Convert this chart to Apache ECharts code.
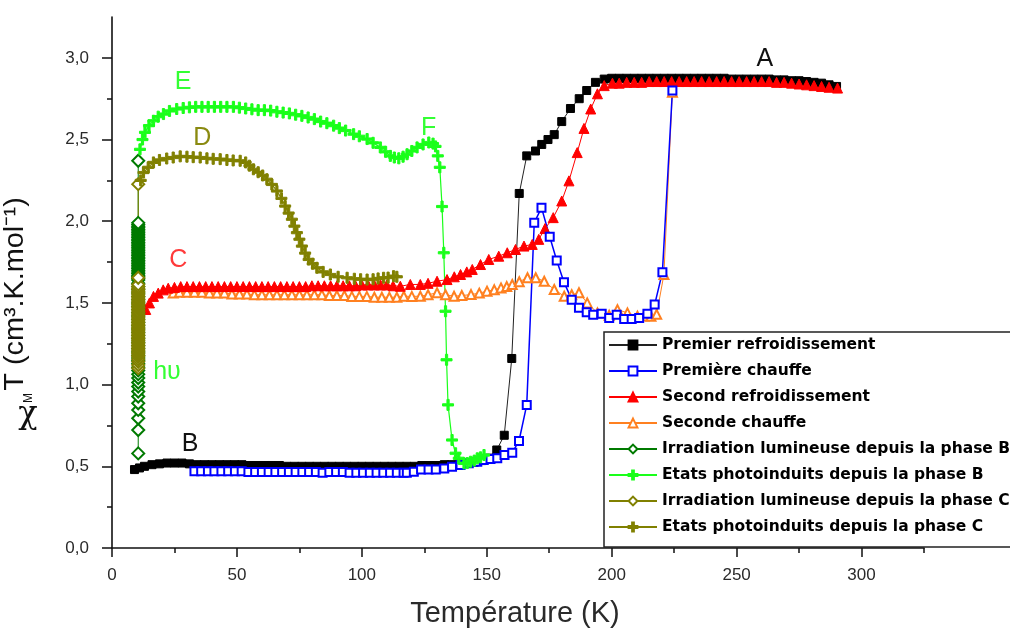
<!DOCTYPE html>
<html><head><meta charset="utf-8">
<script src="https://cdn.jsdelivr.net/npm/echarts@6/dist/echarts.min.js"></script>
<style>html,body{margin:0;padding:0;background:#fff}#c{width:1010px;height:631px}</style>
</head><body><div id="c"></div>
<script>
// ---------- DATA ----------
const seriesNames = [
  'Premier refroidissement', 'Première chauffe', 'Second refroidissement', 'Seconde chauffe',
  'Irradiation lumineuse depuis la phase B', 'Etats photoinduits depuis la phase B',
  'Irradiation lumineuse depuis la phase C', 'Etats photoinduits depuis la phase C'
];
const xMajorTicks = [0, 50, 100, 150, 200, 250, 300];
const xMinorTicks = [25, 75, 125, 175, 225, 275, 325];
const yMajorTicks = [0, 0.5, 1.0, 1.5, 2.0, 2.5, 3.0];
const yMinorTicks = [0.25, 0.75, 1.25, 1.75, 2.25, 2.75];

const premierRefroidissement = [
  [9,0.48],[11,0.49],[13,0.50],[16,0.51],[19,0.515],[22,0.52],[25,0.52],[28,0.52],[31,0.515],[34,0.51],
  [37,0.51],[40,0.51],[43,0.51],[46,0.51],[49,0.51],[52,0.51],[55,0.505],[58,0.505],[61,0.505],[64,0.505],
  [67,0.505],[70,0.50],[73,0.50],[76,0.50],[79,0.50],[82,0.50],[85,0.50],[88,0.50],[91,0.50],[94,0.50],
  [97,0.50],[100,0.50],[103,0.50],[106,0.50],[109,0.50],[112,0.50],[115,0.50],[118,0.50],[121,0.50],[124,0.505],
  [127,0.505],[130,0.505],[133,0.51],[136,0.51],[139,0.515],[142,0.52],[145,0.525],[148,0.535],[151,0.55],[154,0.60],
  [157,0.69],[160,1.16],[163,2.17],[166,2.40],[169.5,2.43],[172,2.47],[174.5,2.50],[177,2.53],[180,2.61],[183.5,2.69],
  [187,2.75],[190,2.80],[193.5,2.85],[197,2.87],[200,2.875],[203,2.875],[206,2.875],[209,2.875],[212,2.875],[215,2.875],
  [218,2.875],[221,2.875],[224,2.875],[227,2.875],[230,2.875],[233,2.875],[236,2.875],[239,2.875],[242,2.875],[245,2.875],
  [248,2.87],[251,2.87],[254,2.87],[257,2.87],[260,2.87],[263,2.87],[266,2.865],[269,2.865],[272,2.86],[275,2.86],
  [278,2.855],[281,2.85],[284,2.845],[287,2.835],[290,2.825]
];
const premiereChauffe = [
  [33,0.47],[35.7,0.47],[38.4,0.47],[41,0.47],[43.8,0.47],[46.5,0.47],[49.2,0.47],[51.9,0.47],[54.6,0.465],[57.3,0.465],
  [60,0.465],[62.7,0.465],[65.4,0.465],[68.1,0.465],[70.8,0.465],[73.5,0.465],[76.2,0.465],[78.9,0.465],[81.6,0.465],[84.3,0.46],
  [87,0.465],[89.7,0.465],[92.4,0.465],[95.1,0.46],[97.8,0.46],[100.5,0.46],[103.2,0.46],[105.9,0.46],[108.6,0.46],[111.3,0.46],
  [114,0.46],[116.7,0.46],[118,0.46],[120.8,0.467],[123.7,0.48],[126.7,0.48],[129.6,0.48],[133,0.487],[136.1,0.497],[139.5,0.508],
  [142.8,0.518],[146.2,0.528],[148.8,0.538],[151.5,0.545],[154.2,0.549],[157.1,0.569],[160.2,0.583],[162.9,0.655],[166,0.876],[169,1.99],
  [171.9,2.083],[175.2,1.905],[178,1.76],[180.9,1.627],[184,1.52],[186.9,1.47],[190,1.443],[192.6,1.428],[196,1.434],[199,1.408],
  [202,1.428],[205,1.402],[208,1.402],[211,1.408],[214.3,1.434],[217.2,1.49],[220.3,1.688],[224.3,2.80]
];
const secondRefroidissement = [
  [13.5,1.46],[15,1.50],[16.6,1.54],[18.5,1.56],[20.5,1.58],[22.5,1.59],[25,1.595],[27.5,1.60],[30,1.60],[32.5,1.60],
  [35,1.60],[37.5,1.60],[40,1.60],[42.5,1.60],[45,1.60],[47.5,1.60],[50,1.60],[52.5,1.60],[55,1.60],[57.5,1.60],
  [60,1.60],[62.5,1.60],[65,1.60],[67.5,1.60],[70,1.60],[72.5,1.60],[75,1.60],[77.5,1.60],[80,1.605],[82.5,1.605],
  [85,1.605],[87.5,1.605],[90,1.605],[92.5,1.605],[95,1.605],[97.5,1.605],[100,1.61],[102.5,1.61],[105,1.61],[107.5,1.61],
  [110,1.61],[112.5,1.605],[115.4,1.602],[119.4,1.613],[123.4,1.613],[126.5,1.62],[130.1,1.633],[134.1,1.643],[137,1.66],[139.5,1.674],
  [142,1.69],[144.2,1.705],[147.5,1.735],[150.8,1.766],[154.8,1.786],[158.2,1.807],[161.5,1.827],[164.9,1.848],[168.2,1.858],[170.8,1.889],
  [173.3,1.955],[176.6,2.022],[180,2.124],[182.9,2.247],[186.2,2.42],[188.9,2.568],[191.6,2.687],[194.3,2.78],[197,2.83],[200.3,2.845],
  [203,2.845],[206,2.85],[209,2.85],[212,2.85],[215,2.855],[218,2.855],[221,2.855],[224,2.855],[227,2.855],[230,2.855],
  [233,2.855],[236,2.855],[239,2.855],[242,2.855],[245,2.855],[248,2.855],[251,2.855],[254,2.855],[257,2.855],[260,2.855],
  [263,2.855],[266,2.85],[269,2.85],[272,2.845],[275,2.84],[278,2.835],[281,2.83],[284,2.825],[287,2.82],[290.4,2.815]
];
const secondeChauffe = [
  [24.5,1.56],[27,1.565],[30,1.565],[33,1.565],[36,1.565],[39,1.56],[42,1.56],[45,1.56],[48,1.555],[51,1.555],
  [54,1.555],[57,1.55],[60,1.55],[63,1.55],[66,1.55],[69,1.55],[72,1.55],[75,1.55],[78,1.55],[81,1.55],
  [84,1.55],[87,1.545],[90,1.545],[93,1.545],[96,1.54],[99,1.54],[102,1.54],[105,1.535],[108,1.535],[111,1.535],
  [114,1.535],[116.8,1.541],[120,1.54],[123.4,1.541],[126.5,1.55],[130.1,1.562],[133.5,1.55],[136.9,1.541],[140,1.545],[143.7,1.551],
  [147,1.56],[150.1,1.572],[153,1.58],[155.7,1.592],[158,1.60],[160.2,1.613],[163,1.63],[166.3,1.654],[169.6,1.654],[173,1.633],
  [177,1.582],[181,1.541],[184,1.55],[186.9,1.562],[190.2,1.50],[194.3,1.439],[199,1.424],[202.3,1.459],[206.3,1.439],[210.3,1.418],
  [213,1.42],[215.7,1.418],[218,1.43],[220.9,1.674],[224.3,2.79]
];
// irradiation at constant temperature (K) -> measured values, in time order
const irradiationTemperature = 10.5;
const irradiationBValues = [
  0.579,0.722,0.794,0.845,0.886,0.927,0.958,0.988,1.013,1.040,1.064,1.087,1.107,1.128,1.146,1.163,1.179,
  1.20,1.22,1.24,1.26,1.28,1.30,1.32,1.34,1.36,1.38,1.40,1.42,1.44,1.46,1.48,1.50,1.52,1.54,1.56,1.58,1.60,1.62,1.64,
  1.65,1.66,1.67,1.68,1.69,1.70,1.71,1.72,1.73,1.74,1.75,1.76,1.77,1.78,1.79,1.80,1.81,1.82,1.83,1.84,1.85,1.86,1.87,
  1.88,1.89,1.90,1.91,1.92,1.93,1.94,1.95,1.96,1.97,1.98,1.99,2.37
];
const irradiationCValues = [
  1.10,1.12,1.14,1.155,1.17,1.18,1.19,
  1.20,1.21,1.22,1.23,1.24,1.25,1.26,1.27,1.28,1.29,1.30,1.31,1.32,1.33,1.34,1.35,1.36,1.37,1.38,1.39,1.40,
  1.41,1.42,1.43,1.44,1.45,1.46,1.47,1.48,1.49,1.50,1.51,1.52,1.53,1.54,1.55,1.56,1.57,1.58,1.59,1.60,
  1.613,1.654,2.227
];
const photoinduitsB = [
  [11.2,2.44],[12.2,2.50],[13.2,2.544],[14.8,2.585],[16.6,2.615],[18.5,2.64],[20.6,2.656],[23,2.675],[25.9,2.687],[28.5,2.693],
  [31,2.697],[33.5,2.70],[36,2.70],[38.5,2.70],[41,2.70],[43.5,2.70],[46,2.70],[48.6,2.70],[51,2.695],[53.5,2.69],
  [56,2.685],[58.5,2.68],[61,2.68],[63.5,2.677],[66,2.67],[68.5,2.665],[71,2.66],[73.5,2.652],[76,2.645],[78.5,2.635],
  [81,2.625],[83.5,2.61],[86,2.60],[88.7,2.585],[91,2.57],[93.5,2.555],[96.7,2.533],[99,2.52],[102.1,2.503],[104.5,2.48],
  [107.4,2.452],[109.5,2.425],[111.4,2.40],[113,2.39],[114.8,2.385],[116.5,2.395],[118.1,2.41],[120,2.43],[122.1,2.452],[124.5,2.47],
  [126.8,2.482],[128.5,2.475],[129.5,2.458],[130.4,2.40],[131.2,2.33],[132.1,2.09],[132.8,1.807],[133.5,1.449],[133.9,1.152],[134.5,0.876],
  [136.1,0.661],[137.5,0.58],[138.8,0.549],[140.9,0.518],[142.2,0.52],[143.5,0.528],[145,0.535],[146.2,0.549],[147.5,0.555],[148.9,0.569]
];
const photoinduitsC = [
  [11.5,2.25],[12.6,2.298],[14.5,2.33],[16.6,2.36],[19,2.375],[21.9,2.384],[24.5,2.39],[27.3,2.397],[30,2.395],[32.5,2.392],
  [35.3,2.39],[38,2.385],[40.5,2.382],[43.3,2.38],[46,2.375],[48.5,2.372],[51.3,2.37],[53.5,2.36],[55,2.34],[56.6,2.318],
  [58.5,2.30],[60.3,2.28],[62,2.257],[64,2.225],[66,2.185],[67.8,2.14],[69.3,2.093],[70.7,2.05],[72,2.012],[73,1.97],
  [74,1.93],[75,1.89],[76,1.848],[77.3,1.805],[78.7,1.766],[80.3,1.74],[82,1.715],[84.5,1.69],[87.4,1.674],[90.5,1.66],
  [94.1,1.654],[97,1.648],[99.5,1.645],[102.1,1.643],[104.5,1.645],[106.5,1.65],[108.7,1.654],[110.5,1.655],[112.7,1.664],[114,1.66]
];
// curve annotations (text, T, value, colour)
const annotations = [
  ['A', 261.3, 2.994, '#111111'], ['B', 31.3, 0.637, '#111111'], ['C', 26.5, 1.76, '#ff3a3a'],
  ['D', 36.1, 2.507, '#8a8a10'], ['E', 28.5, 2.85, '#33ff33'], ['F', 126.7, 2.57, '#33ff33'],
  ['h\u03c5', 22.0, 1.079, '#33ff33']
];

// ---------- CHART ----------
const irradiationB = irradiationBValues.map(v => [irradiationTemperature, v]);
const irradiationC = irradiationCValues.map(v => [irradiationTemperature, v]);
const PLUS = 'path://M4,0H6V4H10V6H6V10H4V6H0V4H4Z';
const chart = echarts.init(document.getElementById('c'), null, {renderer: 'canvas'});
const FONT = 'Liberation Sans';
function mk(name, data, color, symbol, size, opts) {
  opts = opts || {};
  return {
    name, type: 'line', data, symbol, symbolSize: size, showSymbol: true,
    xAxisIndex: 0, yAxisIndex: 0,
    lineStyle: {color: opts.lineColor || color, width: opts.lineWidth || 1},
    itemStyle: {color: color, borderColor: color, borderWidth: opts.bw || 1},
    emphasis: {disabled: true}, animation: false, clip: false
  };
}
const option = {
  animation: false,
  backgroundColor: '#ffffff',
  grid: {left: 112, right: 86, top: 17, bottom: 83},
  xAxis: [{
    type: 'value', min: 0, max: 325, interval: 25,
    axisLine: {show: true, lineStyle: {color: '#111', width: 1.6}},
    axisTick: {show: true, customValues: xMajorTicks, length: 9, lineStyle: {color: '#111', width: 1.5}},
    axisLabel: {customValues: xMajorTicks, margin: 19, fontSize: 17, fontFamily: FONT, color: '#2a2a2a'},
    splitLine: {show: false}
  }, {
    type: 'value', min: 0, max: 325, interval: 25, position: 'bottom',
    axisLine: {show: false},
    axisTick: {show: true, customValues: xMinorTicks, length: 5, lineStyle: {color: '#111', width: 1.5}},
    axisLabel: {show: false}, splitLine: {show: false}
  }],
  yAxis: [{
    type: 'value', min: 0, max: 3.25, interval: 0.25,
    axisLine: {show: true, lineStyle: {color: '#111', width: 1.6}},
    axisTick: {show: true, customValues: yMajorTicks, length: 10, lineStyle: {color: '#111', width: 1.5}},
    axisLabel: {customValues: yMajorTicks, margin: 23, fontSize: 17, fontFamily: FONT, color: '#2a2a2a',
      formatter: v => v.toFixed(1).replace('.', ',')},
    splitLine: {show: false}
  }, {
    type: 'value', min: 0, max: 3.25, interval: 0.25, position: 'left',
    axisLine: {show: false},
    axisTick: {show: true, customValues: yMinorTicks, length: 5, lineStyle: {color: '#111', width: 1.5}},
    axisLabel: {show: false}, splitLine: {show: false}
  }],
  legend: {
    data: seriesNames, orient: 'vertical', left: 604, top: 332,
    padding: [5, 6, 12, 4], itemGap: 10, itemWidth: 48, itemHeight: 11,
    borderColor: '#222', borderWidth: 1.5, backgroundColor: '#fff',
    textStyle: {fontFamily: 'DejaVu Sans', fontWeight: 'bold', fontSize: 15.5, color: '#000'},
    selectedMode: false
  },
  series: [
    mk(seriesNames[3], secondeChauffe, '#ff8020', 'emptyTriangle', 9, {bw: 1.2}),
    mk(seriesNames[0], premierRefroidissement, '#000000', 'rect', 8, {lineColor: '#222'}),
    mk(seriesNames[2], secondRefroidissement, '#ff0000', 'triangle', 10, {}),
    mk(seriesNames[1], premiereChauffe, '#0000ff', 'emptyRect', 8, {bw: 1.5, lineWidth: 1.5}),
    mk(seriesNames[4], irradiationB, '#007a00', 'emptyDiamond', 12, {bw: 2}),
    mk(seriesNames[5], photoinduitsB, '#1aff1a', PLUS, 11, {bw: 0, lineWidth: 1.2}),
    mk(seriesNames[6], irradiationC, '#808000', 'emptyDiamond', 12, {bw: 2}),
    mk(seriesNames[7], photoinduitsC, '#808000', PLUS, 11, {bw: 0, lineWidth: 1.2})
  ]
};
chart.setOption(option);

const g = [];
annotations.forEach(a => {
  const p = chart.convertToPixel({gridIndex: 0}, [a[1], a[2]]);
  g.push({type: 'text', x: p[0], y: p[1], z: 100,
    style: {text: a[0], font: '25px "Liberation Sans"', fill: a[3], align: 'center', verticalAlign: 'middle'}});
});
// y-axis title (rotated) + upright chi
g.push({type: 'text', x: 15, y: 294, rotation: Math.PI / 2, scaleX: 1.03, z: 100,
  style: {text: 'T (cm\u00b3.K.mol\u207b\u00b9)', font: '28px "Liberation Sans"', fill: '#111', align: 'center', verticalAlign: 'middle'}});
g.push({type: 'text', x: 29, y: 398, rotation: Math.PI / 2, z: 100,
  style: {text: 'M', font: '12px "Liberation Sans"', fill: '#111', align: 'center', verticalAlign: 'middle'}});
g.push({type: 'text', x: 28, y: 415, z: 100,
  style: {text: '\u03c7', font: '32px "DejaVu Serif"', fill: '#111', align: 'center', verticalAlign: 'middle'}});
// x-axis title
g.push({type: 'text', x: 515, y: 614, z: 100,
  style: {text: 'Température (K)', font: '29px "Liberation Sans"', fill: '#2a2a2a', align: 'center', verticalAlign: 'middle'}});
chart.setOption({graphic: g});
</script></body></html>
